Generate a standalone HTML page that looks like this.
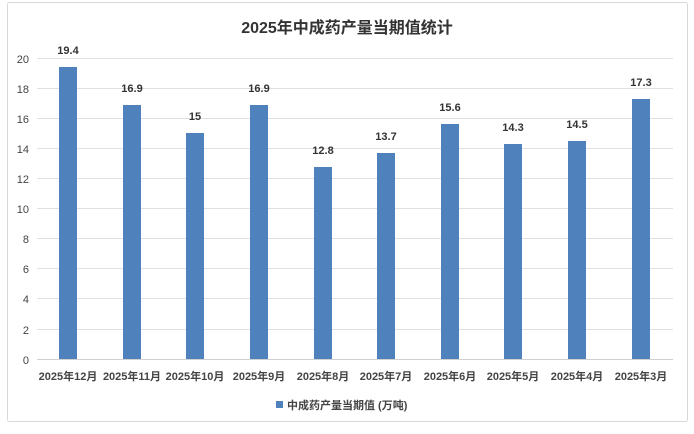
<!DOCTYPE html>
<html><head><meta charset="utf-8"><style>
body{margin:0;background:#fff}
svg text{font-family:"Liberation Sans","Noto Sans CJK SC",sans-serif}
</style></head><body>
<svg width="694" height="429" xmlns="http://www.w3.org/2000/svg">
<rect x="7.5" y="2.5" width="680" height="419" fill="#fff" stroke="#d9d9d9" rx="2"/>
<text x="347" y="33" text-anchor="middle" font-size="16" font-weight="bold" fill="#333">2025年中成药产量当期值统计</text>
<g stroke="#e0e0e0" stroke-width="1">
<line x1="37" x2="673" y1="58.5" y2="58.5"/><line x1="37" x2="673" y1="88.5" y2="88.5"/>
<line x1="37" x2="673" y1="118.5" y2="118.5"/><line x1="37" x2="673" y1="148.5" y2="148.5"/>
<line x1="37" x2="673" y1="178.5" y2="178.5"/><line x1="37" x2="673" y1="208.5" y2="208.5"/>
<line x1="37" x2="673" y1="238.5" y2="238.5"/><line x1="37" x2="673" y1="268.5" y2="268.5"/>
<line x1="37" x2="673" y1="298.5" y2="298.5"/><line x1="37" x2="673" y1="329.5" y2="329.5"/>
</g>
<line x1="37" x2="673" y1="359.5" y2="359.5" stroke="#d0d0d0"/>
<g font-size="11" fill="#444" text-anchor="end">
<text x="29" y="63">20</text><text x="29" y="93">18</text><text x="29" y="123">16</text>
<text x="29" y="153">14</text><text x="29" y="183">12</text><text x="29" y="213">10</text>
<text x="29" y="243">8</text><text x="29" y="273">6</text><text x="29" y="303">4</text>
<text x="29" y="334">2</text><text x="29" y="364">0</text>
</g>
<g fill="#4f81bd">
<rect x="59" y="67" width="18" height="292"/>
<rect x="123" y="105" width="18" height="254"/>
<rect x="186" y="133" width="18" height="226"/>
<rect x="250" y="105" width="18" height="254"/>
<rect x="314" y="167" width="18" height="192"/>
<rect x="377" y="153" width="18" height="206"/>
<rect x="441" y="124" width="18" height="235"/>
<rect x="504" y="144" width="18" height="215"/>
<rect x="568" y="141" width="18" height="218"/>
<rect x="632" y="99" width="18" height="260"/>
</g>
<g font-size="11" font-weight="bold" fill="#333" text-anchor="middle">
<text x="68" y="54">19.4</text><text x="132" y="92">16.9</text><text x="195" y="120">15</text>
<text x="259" y="92">16.9</text><text x="323" y="154">12.8</text><text x="386" y="140">13.7</text>
<text x="450" y="111">15.6</text><text x="513" y="131">14.3</text><text x="577" y="128">14.5</text>
<text x="641" y="86">17.3</text>
</g>
<g font-size="11" font-weight="bold" fill="#444" text-anchor="middle">
<text x="68" y="380">2025年12月</text><text x="132" y="380">2025年11月</text><text x="195" y="380">2025年10月</text>
<text x="259" y="380">2025年9月</text><text x="323" y="380">2025年8月</text><text x="386" y="380">2025年7月</text>
<text x="450" y="380">2025年6月</text><text x="513" y="380">2025年5月</text><text x="577" y="380">2025年4月</text>
<text x="641" y="380">2025年3月</text>
</g>
<rect x="276" y="401" width="7" height="7" fill="#4f81bd"/>
<text x="287" y="409" font-size="11" font-weight="bold" fill="#444">中成药产量当期值 (万吨)</text>
</svg>
</body></html>
